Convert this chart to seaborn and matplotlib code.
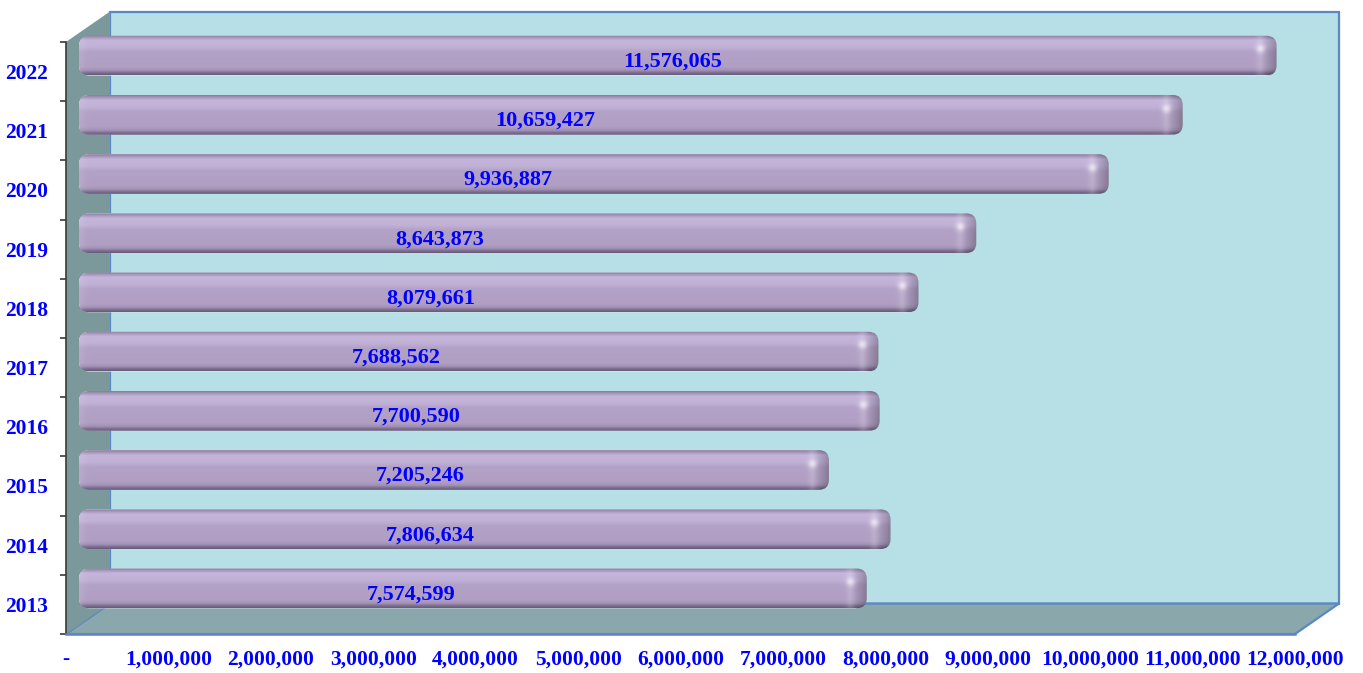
import numpy as np
import matplotlib
matplotlib.use("Agg")
import matplotlib.pyplot as plt
import seaborn as sns
from matplotlib.patches import Rectangle, Polygon, FancyBboxPatch
from matplotlib.transforms import ScaledTranslation, IdentityTransform, Bbox
from matplotlib.image import BboxImage
from matplotlib.ticker import FixedLocator
from matplotlib.colors import to_rgb

# ---- data ---------------------------------------------------------------
years = ["2013", "2014", "2015", "2016", "2017", "2018", "2019", "2020", "2021", "2022"]
values = [7574599, 7806634, 7205246, 7700590, 7688562,
          8079661, 8643873, 9936887, 10659427, 11576065]
value_labels = ["7,574,599", "7,806,634", "7,205,246", "7,700,590", "7,688,562",
                "8,079,661", "8,643,873", "9,936,887", "10,659,427", "11,576,065"]
# where each value label sits along its bar (fraction of the bar length)
label_frac = [0.428, 0.439, 0.462, 0.427, 0.403, 0.425, 0.407, 0.421, 0.427, 0.501]
x_ticks = [0, 1e6, 2e6, 3e6, 4e6, 5e6, 6e6, 7e6, 8e6, 9e6, 10e6, 11e6, 12e6]
x_tick_labels = ["-", "1,000,000", "2,000,000", "3,000,000", "4,000,000", "5,000,000",
                 "6,000,000", "7,000,000", "8,000,000", "9,000,000", "10,000,000",
                 "11,000,000", "12,000,000"]

# ---- style --------------------------------------------------------------
sns.set_theme(style="white")
plt.rcParams["font.family"] = ["Liberation Serif", "DejaVu Serif"]
TXT = "#0000ff"
WALL_BACK = "#b6dfe6"
WALL_SIDE = "#7b999a"
FLOOR = "#8aa8ab"
EDGE = "#5b87c5"
BAR_BASE = "#b2a1c5"

DPI = 100
W_PX, H_PX = 1363, 673
fig = plt.figure(figsize=(W_PX / DPI, H_PX / DPI), dpi=DPI)
fig.patch.set_facecolor("white")

# front plane of the 3-D box
L, R, T, B = 66, 1295, 42, 634
ax = fig.add_axes([L / W_PX, (H_PX - B) / H_PX, (R - L) / W_PX, (B - T) / H_PX])
ax.set_facecolor("none")

df_order = years[::-1]
sns.barplot(x=values, y=years, order=df_order, orient="h", width=0.67,
            color=BAR_BASE, saturation=1, ax=ax, zorder=3)
bars = list(ax.patches)

ax.set_xlim(0, 12e6)
ax.set_ylim(len(years) - 0.5, -0.5)

# ---- walls (depth offset of the back plane) -------------------------------
DEPTH_X, DEPTH_Y = 44, 30.5            # pixels
dxa = DEPTH_X / (R - L)
dya = DEPTH_Y / (B - T)
back = Rectangle((dxa, dya), 1, 1, transform=ax.transAxes, facecolor=WALL_BACK,
                 edgecolor=EDGE, lw=1.6, zorder=0.1, clip_on=False)
floor = Polygon([(0, 0), (1, 0), (1 + dxa, dya), (dxa, dya)], closed=True,
                transform=ax.transAxes, facecolor=FLOOR, edgecolor=EDGE, lw=1.6,
                zorder=0.2, clip_on=False)
side = Polygon([(0, 0), (0, 1), (dxa, 1 + dya), (dxa, dya)], closed=True,
               transform=ax.transAxes, facecolor=WALL_SIDE, edgecolor="none",
               zorder=0.3, clip_on=False)
for p in (back, floor, side):
    ax.add_artist(p)

# ---- axes, ticks --------------------------------------------------------
for s in ("top", "right"):
    ax.spines[s].set_visible(False)
ax.spines["left"].set_color("#3a3a3a")
ax.spines["left"].set_linewidth(1.2)
ax.spines["bottom"].set_color(EDGE)
ax.spines["bottom"].set_linewidth(1.8)

ax.set_xticks(x_ticks)
ax.set_xticklabels(x_tick_labels)
ax.yaxis.set_minor_locator(FixedLocator(np.arange(-0.5, len(years), 1.0)))
ax.tick_params(axis="x", length=0, pad=11, labelsize=15.5, labelcolor=TXT)
ax.tick_params(axis="y", which="major", length=0, pad=13, labelsize=15.5, labelcolor=TXT)
ax.tick_params(axis="y", which="minor", length=4.5, width=1.2, color="#3a3a3a", left=True)
for t in ax.get_xticklabels() + ax.get_yticklabels():
    t.set_fontweight("bold")
ax.set_xlabel("")
ax.set_ylabel("")

# ---- bar rendering ------------------------------------------------------
BAR_DX, BAR_DY = 13, 16                # bars sit a little behind the front plane
CAP = 12                               # extra length of the rounded end
END = 18                               # width of the shaded end region
bar_tr = ax.transData + ScaledTranslation(BAR_DX / DPI, BAR_DY / DPI, fig.dpi_scale_trans)
lab_tr = ax.transData + ScaledTranslation(BAR_DX / DPI, (BAR_DY - 6) / DPI, fig.dpi_scale_trans)

stops_t = [0.00, 0.06, 0.13, 0.30, 0.42, 0.80, 0.88, 0.94, 1.00]
stops_c = np.array([to_rgb(c) for c in ["#887a9a", "#a696b9", "#c5b5db", "#c1b1d7",
                                         "#b3a2c7", "#b09fc3", "#a292b5", "#7e7092",
                                         "#645877"]])


def bar_image(h, w):
    t = (np.arange(h) + 0.5) / h
    col = np.stack([np.interp(t, stops_t, stops_c[:, k]) for k in range(3)], axis=1)
    img = np.repeat(col[:, None, :], w, axis=1)
    xs = np.arange(w)
    # darker end face
    d = np.clip((xs - (w - END)) / END, 0, 1)
    shade = 1 - 0.26 * d ** 1.3
    img *= shade[None, :, None]
    # bevel highlight where the front face turns into the end face
    hx = w - END + 1
    edge = np.exp(-((xs - hx) ** 2) / (2 * 3.0 ** 2))
    img += (1 - img) * (0.14 * edge)[None, :, None]
    yy, xx = np.mgrid[0:h, 0:w]
    spot = np.exp(-(((xx - hx) ** 2) + ((yy - 0.33 * h) ** 2)) / (2 * 3.0 ** 2))
    img += (1 - img) * (0.6 * spot)[:, :, None]
    # soft lighter left end
    lft = np.exp(-(xs ** 2) / (2 * 4 ** 2))
    img += (1 - img) * (0.08 * lft)[None, :, None]
    rgba = np.concatenate([np.clip(img, 0, 1), np.ones((h, w, 1))], axis=2)
    return rgba


for rect in bars:
    rect.set_transform(bar_tr)
    x0, y0 = rect.get_x(), rect.get_y()
    x1, y1 = x0 + rect.get_width(), y0 + rect.get_height()
    (px0, py_a), (px1, py_b) = bar_tr.transform([(x0, y0), (x1, y1)])
    ybot, ytop = min(py_a, py_b), max(py_a, py_b)
    xr = px1 + CAP
    shape = FancyBboxPatch((px0, ybot), xr - px0, ytop - ybot,
                           boxstyle="round,pad=0,rounding_size=10",
                           transform=IdentityTransform(), facecolor="none",
                           edgecolor="none")
    rect.set_clip_path(shape)
    h = int(round(ytop - ybot))
    w = int(round(xr - px0))
    im = BboxImage(Bbox.from_extents(px0, ybot, xr, ytop), interpolation="bilinear",
                   origin="upper", zorder=3.5)
    im.set_data(bar_image(h, w))
    im.set_clip_path(shape)
    ax.add_artist(im)

# ---- value labels -------------------------------------------------------
for rect, lab, fr in zip(bars, [value_labels[years.index(y)] for y in df_order],
                         [label_frac[years.index(y)] for y in df_order]):
    yc = rect.get_y() + rect.get_height() / 2
    ax.text(fr * rect.get_width(), yc, lab, transform=lab_tr, ha="center", va="center",
            fontsize=16, fontweight="bold", color=TXT, zorder=5)

fig.savefig("out.png", dpi=DPI)
